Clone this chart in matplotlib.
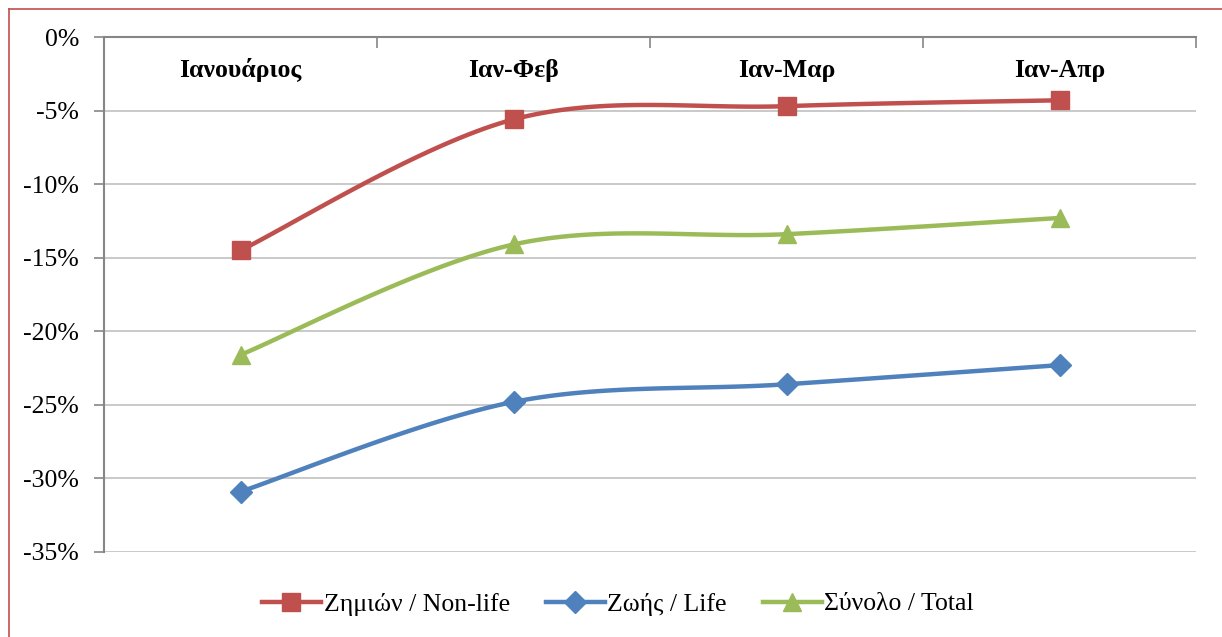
import matplotlib.pyplot as plt
import numpy as np
from matplotlib.lines import Line2D

categories = ["Ιανουάριος", "Ιαν-Φεβ", "Ιαν-Μαρ", "Ιαν-Απρ"]
non_life = [-14.5, -5.6, -4.7, -4.3]
life = [-30.9, -24.8, -23.6, -22.3]
total = [-21.6, -14.1, -13.4, -12.3]
labels = ["Ζημιών / Non-life", "Ζωής / Life", "Σύνολο / Total"]
colors = ["#C0504D", "#4F81BD", "#9BBB59"]
markers = ["s", "D", "^"]

plt.rcParams["font.family"] = ["Liberation Serif", "DejaVu Serif"]
FS = 18.5


def smooth(xs, ys, n=40):
    # Excel-like bezier smoothing through the points
    p = np.column_stack([xs, ys]).astype(float)
    ext = np.vstack([p[0], p, p[-1]])
    out = []
    for i in range(len(p) - 1):
        p0, p1 = ext[i + 1], ext[i + 2]
        c1 = p0 + (ext[i + 2] - ext[i]) / 6
        c2 = p1 - (ext[i + 3] - ext[i + 1]) / 6
        t = np.linspace(0, 1, n)[:, None]
        seg = (1 - t) ** 3 * p0 + 3 * (1 - t) ** 2 * t * c1 + 3 * (1 - t) * t ** 2 * c2 + t ** 3 * p1
        out.append(seg)
    s = np.vstack(out)
    return s[:, 0], s[:, 1]


fig = plt.figure(figsize=(12.22, 6.37), dpi=100)
ax = fig.add_axes([104 / 1222, 1 - 552 / 637, (1196 - 104) / 1222, (552 - 37) / 637])

x = np.arange(len(categories)) + 0.5
handles = []
for vals, lab, c, m in zip([non_life, life, total], labels, colors, markers):
    sx, sy = smooth(x, np.array(vals) / 100)
    ax.plot(sx, sy, color=c, lw=3.2, solid_capstyle="round", zorder=3)
    ms = 11.5 if m == "D" else 12.5
    ax.plot(x, np.array(vals) / 100, ls="none", marker=m, color=c, ms=ms, zorder=4)
    handles.append(Line2D([], [], color=c, lw=3.2, marker=m, ms=ms))

ax.set_xlim(0, len(categories))
ax.set_ylim(-0.35, 0)
yt = np.arange(-35, 1, 5)
ax.set_yticks(yt / 100)
ax.set_yticklabels([f"{v}%" for v in yt], fontsize=FS)
ax.tick_params(axis="y", direction="out", length=7, width=1.2, color="#868686", pad=11)
ax.grid(axis="y", color="#C0C0C0", lw=1.2)
ax.set_axisbelow(True)

ax.xaxis.tick_top()
ax.set_xticks(np.arange(len(categories) + 1))
ax.set_xticklabels([])
ax.tick_params(axis="x", direction="in", length=8, width=1.2, color="#868686")

for sp in ["right", "bottom"]:
    ax.spines[sp].set_visible(False)
for sp in ["left", "top"]:
    ax.spines[sp].set_color("#868686")
    ax.spines[sp].set_linewidth(1.5)

for xi, cat in zip(x, categories):
    ax.text(xi, -0.0225, cat, ha="center", va="center", fontsize=FS, fontweight="bold")

fig.legend(handles, labels, loc="center", bbox_to_anchor=(618 / 1222, 1 - 604 / 637),
           ncol=3, frameon=False, handlelength=2.3, handletextpad=0.1,
           columnspacing=1.4, prop={"family": ["Liberation Serif", "DejaVu Serif"], "size": FS})

# outer frame (only top and left visible)
fig.add_artist(Line2D([9 / 1222, 9 / 1222], [0, 1 - 9 / 637], color="#C0504D", lw=1.2))
fig.add_artist(Line2D([9 / 1222, 1], [1 - 9 / 637, 1 - 9 / 637], color="#C0504D", lw=1.2))

fig.savefig("out.png", dpi=100)
